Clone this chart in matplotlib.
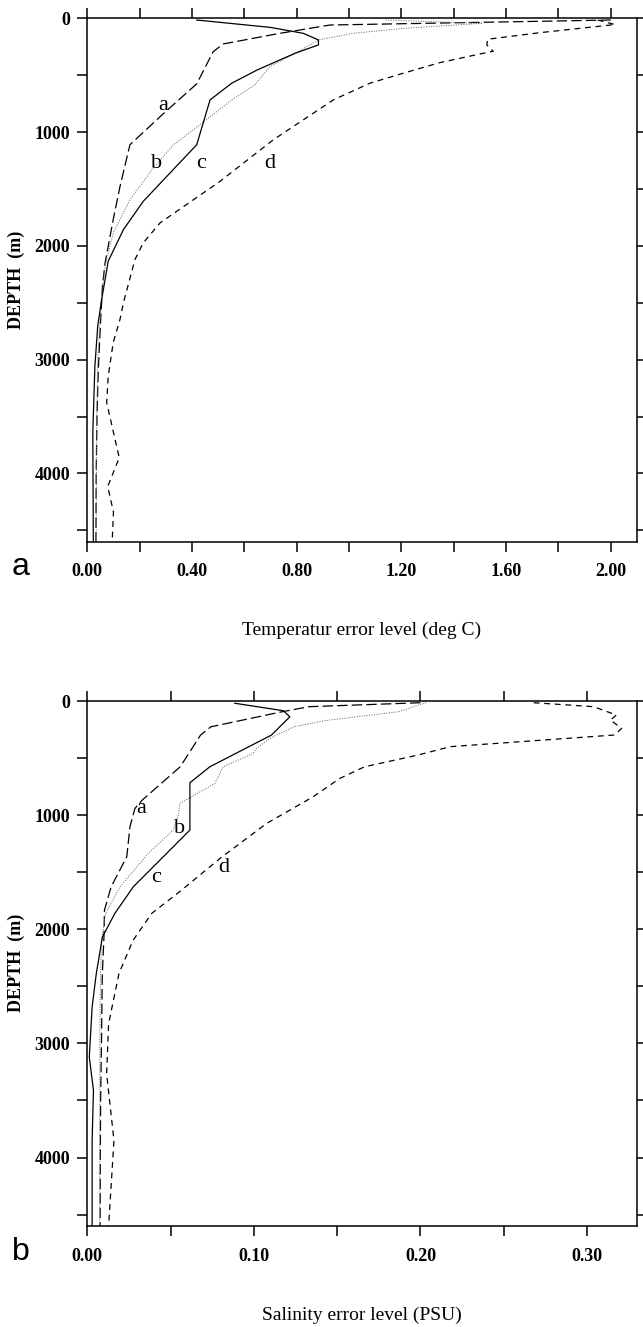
import matplotlib
matplotlib.use("Agg")
import matplotlib.pyplot as plt
from matplotlib.ticker import MultipleLocator, FormatStrFormatter

plt.rcParams["lines.scale_dashes"] = False

# ---- Temperature error profiles (deg C) vs depth (m) ----
temp_depth_a = [15, 59, 132, 225, 293, 576, 833, 1111, 1477, 1769, 2149, 2354, 2700, 3090, 3500, 4000, 4600]
temp_err_a = [2.00, 0.927, 0.736, 0.52, 0.481, 0.418, 0.293, 0.163, 0.125, 0.099, 0.068, 0.058, 0.050, 0.042, 0.037, 0.034, 0.033]

temp_depth_b = [15, 44, 88, 132, 190, 300, 424, 585, 717, 980, 1110, 1316, 1594, 1886, 2178, 2500, 3000, 3500, 4000, 4600]
temp_err_b = [1.14, 1.51, 1.21, 1.016, 0.883, 0.80, 0.698, 0.640, 0.552, 0.405, 0.33, 0.252, 0.163, 0.099, 0.068, 0.052, 0.040, 0.036, 0.035, 0.034]

temp_depth_c = [15, 80, 132, 190, 234, 307, 453, 570, 717, 1111, 1608, 1857, 2134, 2470, 2700, 3056, 3640, 4100, 4600]
temp_err_c = [0.418, 0.70, 0.825, 0.883, 0.883, 0.794, 0.65, 0.552, 0.469, 0.418, 0.214, 0.138, 0.080, 0.055, 0.040, 0.029, 0.021, 0.022, 0.023]

temp_depth_d = [15, 55, 126, 184, 234, 290, 307, 389, 482, 570, 717, 1067, 1433, 1798, 1973, 2120, 2500, 2645, 2850, 3143, 3377, 3862, 4115, 4340, 4600]
temp_err_d = [1.95, 2.016, 1.73, 1.53, 1.526, 1.551, 1.513, 1.348, 1.208, 1.08, 0.94, 0.711, 0.507, 0.278, 0.214, 0.182, 0.138, 0.125, 0.099, 0.080, 0.074, 0.122, 0.078, 0.100, 0.095]

# ---- Salinity error profiles (PSU) vs depth (m) ----
sal_depth_a = [15, 50, 94, 226, 298, 576, 868, 941, 1102, 1365, 1628, 1833, 2067, 2400, 3000, 3500, 4000, 4600]
sal_err_a = [0.200, 0.133, 0.117, 0.0742, 0.068, 0.0558, 0.0330, 0.0286, 0.0256, 0.0237, 0.0143, 0.0103, 0.0100, 0.0090, 0.0085, 0.0080, 0.0078, 0.0077]

sal_depth_b = [15, 94, 173, 226, 327, 415, 459, 576, 722, 897, 1000, 1131, 1336, 1628, 1862, 2100, 2500, 3000, 3500, 4000, 4600]
sal_err_b = [0.2033, 0.187, 0.142, 0.124, 0.1096, 0.1016, 0.0996, 0.0816, 0.0766, 0.0556, 0.0546, 0.0516, 0.0366, 0.0196, 0.011, 0.0085, 0.0078, 0.0075, 0.0075, 0.0075, 0.0075]

sal_depth_c = [20, 85, 138, 298, 576, 716, 1131, 1628, 1862, 2067, 2388, 2681, 3120, 3412, 3850, 4600]
sal_err_c = [0.0886, 0.1176, 0.1216, 0.1106, 0.0736, 0.0616, 0.0616, 0.0276, 0.0165, 0.0091, 0.0054, 0.0029, 0.0012, 0.0037, 0.0029, 0.0029]

sal_depth_d = [15, 50, 123, 167, 240, 298, 400, 474, 576, 678, 839, 1073, 1380, 1657, 1862, 2096, 2388, 2827, 3266, 3850, 4600]
sal_err_d = [0.268, 0.304, 0.3176, 0.314, 0.3208, 0.3164, 0.218, 0.1984, 0.1665, 0.1516, 0.1356, 0.1076, 0.0796, 0.0566, 0.0386, 0.0275, 0.019, 0.0128, 0.0116, 0.016, 0.0128]

curve_names = ["a", "b", "c", "d"]
depth_ticks = [0, 1000, 2000, 3000, 4000]

SERIF = ["Liberation Serif", "DejaVu Serif"]
SANS = ["Liberation Sans", "DejaVu Sans"]

styles = {
    "a": dict(color="black", lw=0.9, dashes=(7.5, 3.0)),
    "b": dict(color="#707070", lw=0.7, dashes=(0.8, 1.0)),
    "c": dict(color="black", lw=0.9, linestyle="-"),
    "d": dict(color="black", lw=0.9, dashes=(4.2, 3.4)),
}

W, H = 643, 1327
fig = plt.figure(figsize=(W / 100, H / 100), dpi=100)


def px_axes(left, top, right, bottom):
    return fig.add_axes([left / W, 1 - bottom / H, (right - left) / W, (bottom - top) / H])


def style_axes(ax, xmax, xmajor, xminor, xfmt):
    ax.set_xlim(0, xmax)
    ax.set_ylim(4600, 0)
    ax.xaxis.set_major_locator(MultipleLocator(xmajor))
    ax.xaxis.set_minor_locator(MultipleLocator(xminor))
    ax.xaxis.set_major_formatter(FormatStrFormatter(xfmt))
    ax.set_yticks(depth_ticks)
    ax.yaxis.set_minor_locator(MultipleLocator(500))
    for which in ("major", "minor"):
        ax.tick_params(axis="both", which=which, direction="out", length=7.5, width=1.1,
                       top=True, right=True, labeltop=False, labelright=False)
    ax.tick_params(axis="x", which="major", pad=8)
    ax.tick_params(axis="y", which="major", pad=5)
    for lab in ax.get_xticklabels() + ax.get_yticklabels():
        lab.set_family(SERIF)
        lab.set_fontweight("bold")
        lab.set_fontsize(13)
    for sp in ax.spines.values():
        sp.set_linewidth(1.1)


def draw_profiles(ax, profiles, label_pos):
    for name in curve_names:
        vals, depths = profiles[name]
        st = dict(styles[name])
        if "dashes" in st:
            dashes = st.pop("dashes")
            ax.plot(vals, depths, dashes=dashes, **st)
        else:
            ax.plot(vals, depths, **st)
        x, y = label_pos[name]
        ax.text(x, y, name, family=SERIF, fontsize=16, ha="center", va="baseline")


# Temperature panel
ax1 = px_axes(87.3, 18.3, 637.0, 541.7)
draw_profiles(ax1, {
    "a": (temp_err_a, temp_depth_a),
    "b": (temp_err_b, temp_depth_b),
    "c": (temp_err_c, temp_depth_c),
    "d": (temp_err_d, temp_depth_d),
}, {"a": (0.29, 810), "b": (0.265, 1316), "c": (0.434, 1316), "d": (0.697, 1316)})
style_axes(ax1, 2.1, 0.4, 0.2, "%.2f")

# Salinity panel
ax2 = px_axes(87.3, 701.0, 637.0, 1226.0)
draw_profiles(ax2, {
    "a": (sal_err_a, sal_depth_a),
    "b": (sal_err_b, sal_depth_b),
    "c": (sal_err_c, sal_depth_c),
    "d": (sal_err_d, sal_depth_d),
}, {"a": (0.0323, 985), "b": (0.0552, 1160), "c": (0.0412, 1585), "d": (0.0822, 1497)})
style_axes(ax2, 0.33, 0.1, 0.05, "%.2f")

# Axis titles and panel letters
for yc in (280, 963):
    fig.text(16 / W, 1 - yc / H, "DEPTH  (m)", rotation=90, ha="center", va="center",
             family=SERIF, fontweight="bold", fontsize=13)
fig.text(362 / W, 1 - 630 / H, "Temperatur error level (deg C)", ha="center", va="center",
         family=SERIF, fontsize=14)
fig.text(362 / W, 1 - 1315 / H, "Salinity error level (PSU)", ha="center", va="center",
         family=SERIF, fontsize=14)
fig.text(21 / W, 1 - 575 / H, "a", ha="center", va="baseline", family=SANS, fontsize=23)
fig.text(21 / W, 1 - 1260 / H, "b", ha="center", va="baseline", family=SANS, fontsize=23)

fig.savefig("out.png", dpi=100)
